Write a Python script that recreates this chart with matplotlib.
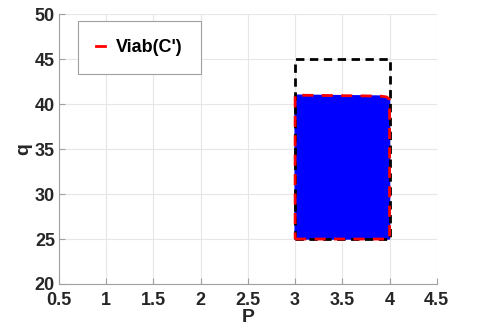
import matplotlib.pyplot as plt
import numpy as np

# data
box_p = [3, 4, 4, 3, 3]
box_q = [25, 25, 45, 45, 25]
viab_p = [3, 4, 4, 3.97, 3.9, 3, 3]
viab_q = [25, 25, 40.5, 40.8, 40.9, 41, 25]
xticks = [0.5, 1, 1.5, 2, 2.5, 3, 3.5, 4, 4.5]
yticks = [20, 25, 30, 35, 40, 45, 50]

plt.rcParams['font.family'] = ['Liberation Sans', 'DejaVu Sans']
plt.rcParams['font.weight'] = 'bold'

fig = plt.figure(figsize=(4.88, 3.31), dpi=100)
ax = fig.add_axes([0.121, 0.142, 0.774, 0.815])

ax.fill(viab_p, viab_q, color='#0000ff', zorder=2)
ax.plot(box_p, box_q, color='black', lw=2, ls=(0, (3, 2)), zorder=3)
ax.plot(viab_p, viab_q, color='red', lw=2, ls=(0, (4, 3)), zorder=4,
        label="Viab(C')")

ax.set_xlim(0.5, 4.5)
ax.set_ylim(20, 50)
ax.set_xticks(xticks)
ax.set_xticklabels(['0.5', '1', '1.5', '2', '2.5', '3', '3.5', '4', '4.5'])
ax.set_yticks(yticks)
ax.grid(True, color='#e6e6e6', lw=0.8)
ax.set_axisbelow(True)
for s in ['top', 'right']:
    ax.spines[s].set_visible(False)
for s in ['left', 'bottom']:
    ax.spines[s].set_color('#a0a0a0')
ax.tick_params(direction='in', length=4, color='#a0a0a0', labelsize=13,
               labelcolor='#262626')
ax.tick_params(axis='x', pad=6)
ax.tick_params(axis='y', pad=3)
for lab in ax.get_xticklabels() + ax.get_yticklabels():
    lab.set_fontweight('bold')
ax.set_xlabel('P', fontsize=14, fontweight='bold', color='#262626', labelpad=0)
ax.set_ylabel('q', fontsize=14, fontweight='bold', color='#262626', labelpad=2)

leg = ax.legend(loc='upper left', bbox_to_anchor=(0.05, 0.975), fontsize=13,
                handlelength=0.5, fancybox=False, framealpha=1,
                borderpad=1.0, handletextpad=0.6, borderaxespad=0)
leg.get_frame().set_edgecolor('#a0a0a0')
leg.get_frame().set_linewidth(0.8)
leg.get_lines()[0].set_linestyle('-')
for t in leg.get_texts():
    t.set_fontweight('bold')

fig.savefig('out.png', dpi=100)
